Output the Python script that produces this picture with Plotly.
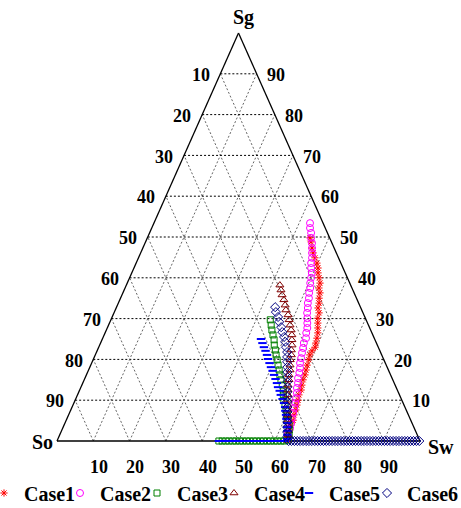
import plotly.graph_objects as go

# ---------------- data (Sw, Sg in %) ----------------
case1_sw = [44.8, 45.6, 46.6, 47.5, 48.6, 49.8, 50.7, 51.3, 52.2, 53.1, 53.4, 54.3, 54.7, 55.3, 55.6,
            56.5, 56.8, 57.4, 58.0, 58.6, 59.0, 59.3, 59.6, 59.2, 59.1, 59.4, 59.6, 59.9, 60.2, 60.3,
            60.6, 61.0, 61.0, 61.4, 61.7, 62.0, 62.1, 62.5, 62.5, 62.8, 62.9, 63.1]
case1_sg = [49.8, 48.8, 47.3, 46.1, 44.9, 43.6, 42.4, 41.2, 40.0, 38.7, 37.5, 36.3, 35.0, 33.8, 32.6,
            31.4, 30.1, 28.9, 27.7, 26.5, 25.2, 24.0, 23.0, 22.1, 21.1, 19.9, 18.6, 17.4, 16.2, 15.0,
            13.7, 12.5, 11.3, 10.0, 8.8, 7.6, 6.4, 5.1, 3.9, 2.7, 1.5, 0.5]

case2_sw = [43.0, 43.6, 44.5, 45.1, 46.0, 46.6, 47.2, 47.8, 48.2, 48.8, 49.6, 50.0, 50.4, 51.0, 51.3,
            51.9, 52.2, 52.8, 53.2, 53.9, 54.5, 55.1, 55.4, 56.0, 56.0, 56.4, 56.7, 57.1, 57.4, 58.0,
            58.4, 58.7, 59.3, 59.6, 60.2, 60.6, 61.0, 61.3, 61.6, 61.9, 62.3, 62.6, 62.6, 63.1]
case2_sg = [53.4, 52.2, 51.0, 49.8, 48.5, 47.3, 46.1, 44.9, 43.6, 42.4, 41.2, 40.0, 38.7, 37.5, 36.3,
            35.0, 33.8, 32.6, 31.4, 30.1, 28.9, 27.7, 26.5, 25.2, 24.0, 22.8, 21.6, 20.3, 19.1, 17.9,
            16.7, 15.4, 14.2, 13.0, 11.8, 10.5, 9.3, 8.1, 6.9, 5.6, 4.4, 3.2, 2.0, 0.7]

case3_sw = [43.9, 44.8, 45.6, 46.5, 47.4, 48.1, 49.0, 49.8, 50.7, 51.6, 52.5, 53.3, 54.2, 55.2, 56.1,
            56.7, 57.5, 58.4, 59.3, 60.2, 61.1, 62.0, 62.6, 63.2, 63.5]
case3_sg = [29.7, 28.4, 27.2, 26.0, 24.8, 23.5, 22.3, 21.1, 19.9, 18.6, 17.4, 16.2, 15.0, 13.7, 12.5,
            11.3, 10.0, 8.8, 7.6, 6.4, 5.1, 3.9, 2.7, 1.5, 0.2]
case3_base_sw = [44.6, 45.5, 46.5, 47.4, 48.4, 49.3, 50.3, 51.2, 52.2, 53.1, 54.1, 55.0, 56.0, 56.9,
                 57.9, 58.8, 59.8, 60.7, 61.7, 62.6]

case4_sw = [42.3, 43.2, 44.1, 45.2, 46.2, 47.0, 48.2, 49.1, 50.0, 50.9, 51.7, 52.3, 53.0, 53.4, 54.0,
            54.3, 54.9, 55.5, 55.8, 56.4, 56.8, 57.4, 58.0, 58.6, 59.2, 59.8, 60.4, 61.1, 61.7, 62.3,
            62.9, 63.3]
case4_sg = [38.2, 37.0, 35.8, 34.6, 33.3, 32.1, 30.9, 29.7, 28.4, 27.2, 26.0, 24.8, 23.5, 22.3, 21.1,
            19.9, 18.6, 17.4, 16.2, 15.0, 13.7, 12.5, 11.3, 10.0, 8.8, 7.6, 6.4, 5.1, 3.9, 2.7,
            1.5, 0.2]

case5_sw = [43.7, 44.6, 45.5, 46.4, 47.3, 48.1, 49.0, 49.9, 50.8, 51.7, 52.6, 53.5, 54.3, 55.2, 56.0,
            57.0, 57.9, 58.7, 59.2, 59.9, 60.5, 61.2, 61.7, 62.2, 62.7, 63.2]
case5_sg = [25.0, 24.0, 23.0, 22.1, 21.1, 20.1, 19.1, 18.1, 17.2, 16.2, 15.2, 14.2, 13.2, 12.3, 11.3,
            10.3, 9.3, 8.3, 7.4, 6.4, 5.4, 4.4, 3.4, 2.5, 1.5, 0.5]
case5_base_sw = [44.6, 45.4, 46.3, 47.2, 48.0, 48.9, 49.8, 50.6, 51.5, 52.4, 53.2, 54.1, 55.0, 55.8,
                 56.7, 57.6, 58.4, 59.3, 60.2, 61.0, 61.9, 62.8]

case6_sw = [43.7, 44.5, 45.7, 46.6, 47.8, 48.7, 49.8, 50.7, 51.6, 52.5, 53.1, 53.7, 54.4, 55.0, 55.6,
            56.2, 56.8, 57.4, 58.0, 58.6, 59.3, 59.9, 60.5, 61.1, 61.7, 62.3, 62.9]
case6_sg = [32.8, 31.6, 30.4, 29.2, 27.9, 26.7, 25.5, 24.3, 23.0, 21.8, 20.6, 19.4, 18.1, 16.9, 15.7,
            14.5, 13.2, 12.0, 10.8, 9.6, 8.3, 7.1, 5.9, 4.7, 3.4, 2.2, 1.0]
case6_base_sw = [63.8, 64.6, 65.4, 66.2, 67.0, 67.8, 68.6, 69.4, 70.2, 71.0, 71.8, 72.6, 73.4, 74.2,
                 75.0, 75.8, 76.6, 77.4, 78.2, 79.0, 79.8, 80.6, 81.4, 82.2, 83.0, 83.8, 84.6,
                 85.4, 86.2, 87.0, 87.8, 88.6, 89.4, 90.2, 91.0, 91.8, 92.6, 93.4, 94.2, 95.0,
                 95.8, 96.6, 97.4, 98.2, 99.0, 99.8]

case_names = ["Case1", "Case2", "Case3", "Case4", "Case5", "Case6"]
left_ticks = [10, 20, 30, 40, 50, 60, 70, 80, 90]      # So, left edge
right_ticks = [90, 80, 70, 60, 50, 40, 30, 20, 10]     # Sg, right edge
bottom_ticks = [10, 20, 30, 40, 50, 60, 70, 80, 90]    # Sw, bottom edge


def proj(sw, sg):
    """ternary (Sw, Sg) -> cartesian (X, Y)"""
    return [w + g / 2.0 for w, g in zip(sw, sg)], list(sg)


FONT = "Liberation Serif"
W, H, MB = 461, 508, 30
fig = go.Figure()

series = [
    (case1_sw, case1_sg, "red", "asterisk-open", 6, 1),
    (case2_sw, case2_sg, "#FF00FF", "circle-open", 7, 1),
    (case3_sw + case3_base_sw, case3_sg + [0] * len(case3_base_sw), "#008000", "square-open", 6, 1),
    (case4_sw, case4_sg, "#800000", "triangle-up-open", 7, 1),
    (case5_sw + case5_base_sw, case5_sg + [0] * len(case5_base_sw), "blue", "line-ew-open", 6, 2),
    (case6_sw + case6_base_sw, case6_sg + [0] * len(case6_base_sw), "#000080", "diamond-open", 7, 1),
]
legend_ids = ["legend", "legend2", "legend3", "legend4", "legend5", "legend6"]
for name, lid, (sw, sg, col, sym, sz, lw) in zip(case_names, legend_ids, series):
    X, Y = proj(sw, sg)
    fig.add_trace(go.Scatter(
        x=X, y=Y, mode="markers", name=name, legend=lid,
        marker=dict(symbol=sym, size=sz, color=col, line=dict(color=col, width=lw)),
    ))

shapes = []
# grid
for v in range(10, 100, 10):
    # constant Sg (horizontal)
    shapes.append(dict(type="line", xref="x", yref="y", x0=v / 2, y0=v, x1=100 - v / 2, y1=v,
                       line=dict(color="black", width=1, dash="2px,2px"), layer="below"))
    # constant Sw
    shapes.append(dict(type="line", xref="x", yref="y", x0=v, y0=0, x1=v + (100 - v) / 2, y1=100 - v,
                       line=dict(color="#666666", width=1, dash="2px,2px"), layer="below"))
    # constant So
    shapes.append(dict(type="line", xref="x", yref="y", x0=100 - v, y0=0, x1=(100 - v) / 2, y1=100 - v,
                       line=dict(color="#666666", width=1, dash="2px,2px"), layer="below"))
# triangle outline
for (a, b, c, d) in [(0, 0, 100, 0), (0, 0, 50, 100), (100, 0, 50, 100)]:
    shapes.append(dict(type="line", xref="x", yref="y", x0=a, y0=b, x1=c, y1=d,
                       line=dict(color="black", width=1.3), layer="below"))

ann = []
tf = dict(family=FONT, size=18, color="black", weight="bold")
for t in left_ticks:
    sg = 100 - t
    ann.append(dict(x=sg / 2 - 2.4, y=sg - 0.3, text=str(t), showarrow=False, xanchor="right",
                    yanchor="middle", font=tf))
for t in right_ticks:
    ann.append(dict(x=100 - t / 2 + 2.3, y=t - 0.3, text=str(t), showarrow=False, xanchor="left",
                    yanchor="middle", font=tf))
for t in bottom_ticks:
    ann.append(dict(x=t + 1.5, y=-6.4, text=str(t), showarrow=False, xanchor="center",
                    yanchor="middle", font=tf))
lf = dict(family=FONT, size=20, color="black", weight="bold")
ann.append(dict(x=51.5, y=103.9, text="Sg", showarrow=False, xanchor="center", yanchor="middle", font=lf))
ann.append(dict(x=-3.9, y=-0.3, text="So", showarrow=False, xanchor="center", yanchor="middle", font=lf))
ann.append(dict(x=105.8, y=-1.5, text="Sw", showarrow=False, xanchor="center", yanchor="middle", font=lf))

# one single-entry legend per case, placed along the bottom row
legend_left_px = [-16, 60, 137, 214, 289, 367]
legends = {}
for lid, px in zip(legend_ids, legend_left_px):
    legends[lid] = dict(orientation="h", x=px / W, xanchor="left", y=-15 / (H - MB), yanchor="middle",
                        font=dict(family=FONT, size=20, color="black", weight="bold"),
                        bgcolor="rgba(0,0,0,0)", itemwidth=30)

fig.update_layout(
    width=W, height=H,
    margin=dict(l=0, r=0, t=0, b=MB, autoexpand=False),
    paper_bgcolor="white", plot_bgcolor="white",
    xaxis=dict(range=[-15.70, 111.29], visible=False, fixedrange=True),
    yaxis=dict(range=[-9.07, 108.09], visible=False, fixedrange=True),
    shapes=shapes, annotations=ann,
    showlegend=True,
    **legends,
)
fig.write_html("out.html")
